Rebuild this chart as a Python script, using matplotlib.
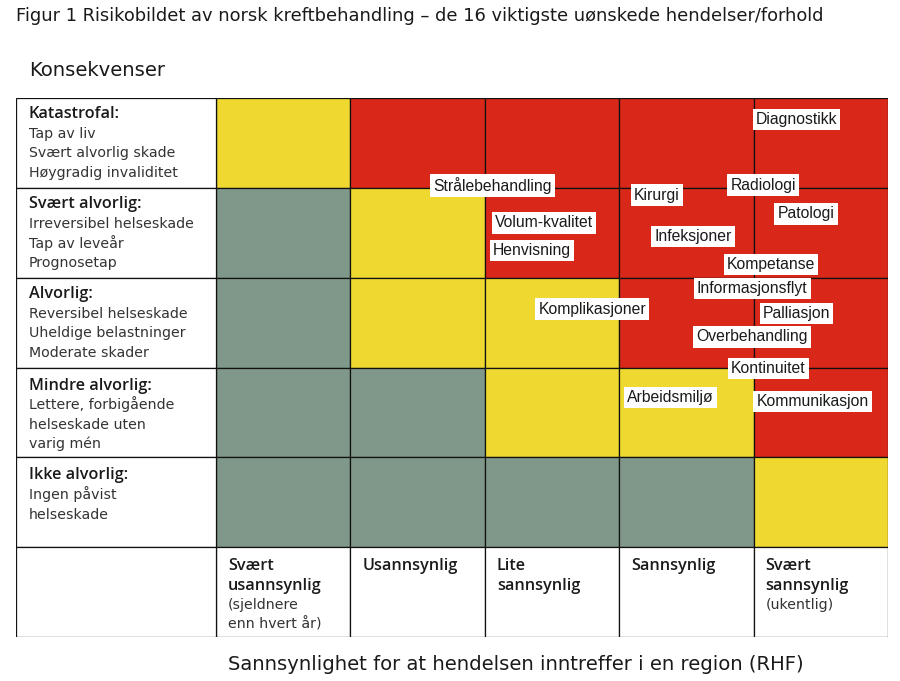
import matplotlib
matplotlib.use("Agg")
import matplotlib.pyplot as plt
from matplotlib.patches import Rectangle
from matplotlib.transforms import offset_copy

# ---------------- data ----------------
title = "Figur 1 Risikobildet av norsk kreftbehandling \u2013 de 16 viktigste u\u00f8nskede hendelser/forhold"
y_title = "Konsekvenser"
x_title = "Sannsynlighet for at hendelsen inntreffer i en region (RHF)"

consequence_heads = ["Katastrofal:", "Sv\u00e6rt alvorlig:", "Alvorlig:", "Mindre alvorlig:", "Ikke alvorlig:"]
consequence_desc = [
    ["Tap av liv", "Sv\u00e6rt alvorlig skade", "H\u00f8ygradig invaliditet"],
    ["Irreversibel helseskade", "Tap av leve\u00e5r", "Prognosetap"],
    ["Reversibel helseskade", "Uheldige belastninger", "Moderate skader"],
    ["Lettere, forbig\u00e5ende", "helseskade uten", "varig m\u00e9n"],
    ["Ingen p\u00e5vist", "helseskade"],
]
likelihood_heads = [["Sv\u00e6rt", "usannsynlig"], ["Usannsynlig"], ["Lite", "sannsynlig"],
                    ["Sannsynlig"], ["Sv\u00e6rt", "sannsynlig"]]
likelihood_desc = [["(sjeldnere", "enn hvert \u00e5r)"], [], [], [], ["(ukentlig)"]]

# risk level per cell: rows from Katastrofal (top) down, columns from Svært usannsynlig
risk = [
    [1, 2, 2, 2, 2],
    [0, 1, 2, 2, 2],
    [0, 1, 1, 2, 2],
    [0, 0, 1, 1, 2],
    [0, 0, 0, 0, 1],
]

events = ["Diagnostikk", "Str\u00e5lebehandling", "Radiologi", "Kirurgi", "Patologi",
          "Volum-kvalitet", "Infeksjoner", "Henvisning", "Kompetanse", "Informasjonsflyt",
          "Komplikasjoner", "Palliasjon", "Overbehandling", "Kontinuitet", "Arbeidsmilj\u00f8",
          "Kommunikasjon"]
# likelihood (0..5, left->right) and consequence (0..5, bottom->top) in matrix units
ev_likelihood = [4.32, 2.06, 4.07, 3.28, 4.39, 2.44, 3.55, 2.35, 4.13, 3.99,
                 2.80, 4.32, 3.99, 4.11, 3.38, 4.44]
ev_consequence = [4.76, 4.03, 4.03, 3.92, 3.71, 3.61, 3.46, 3.30, 3.15, 2.88,
                  2.65, 2.60, 2.34, 1.99, 1.67, 1.62]

# ---------------- style ----------------
risk_colors = {0: "#7F988A", 1: "#EFD930", 2: "#D9271A"}
BASE = ["DejaVu Sans"]
HEAD = ["Open Sans", "DejaVu Sans"]
NARROW = ["Liberation Sans Narrow", "Liberation Sans", "DejaVu Sans"]
W, H = 900, 681
fig = plt.figure(figsize=(W / 100, H / 100), dpi=100)
fig.patch.set_facecolor("white")

left_px, right_px, top_px, bot_px = 16, 888, 98, 637
ncol, nrow = 5, 5
col_w = (right_px - 216) / ncol
label_w = (216 - left_px) / col_w
ax = fig.add_axes([left_px / W, 1 - bot_px / H, (right_px - left_px) / W, (bot_px - top_px) / H])
ax.set_xlim(-label_w, ncol)
ax.set_ylim(-1, nrow)
ax.axis("off")

lw = 0.9
edge = "#111111"
for r in range(nrow):
    for c in range(ncol):
        ax.add_patch(Rectangle((c, nrow - 1 - r), 1, 1, facecolor=risk_colors[risk[r][c]],
                               edgecolor=edge, lw=lw, zorder=1))
for r in range(nrow):
    ax.add_patch(Rectangle((-label_w, nrow - 1 - r), label_w, 1, facecolor="white",
                           edgecolor=edge, lw=lw, zorder=1))
for c in range(ncol):
    ax.add_patch(Rectangle((c, -1), 1, 1, facecolor="white", edgecolor=edge, lw=lw, zorder=1))
ax.add_patch(Rectangle((-label_w, -1), label_w, 1, facecolor="white", edgecolor=edge, lw=lw, zorder=1))

line_h = 19.6  # px between baselines
fs_body = 10.2
fs_head = 11.7
head_col = "#1a1a1a"
body_col = "#333333"

def off(dx, dy):
    return offset_copy(ax.transData, fig=fig, x=dx, y=dy, units="dots")

row_first = [20, 20.5, 20.5, 22, 22]
for r in range(nrow):
    ytop = nrow - r
    b0 = row_first[r]
    ax.text(-label_w, ytop, consequence_heads[r], transform=off(13, -b0), ha="left", va="baseline",
            fontsize=fs_head, family=HEAD, color=head_col, fontweight="semibold")
    for k, line in enumerate(consequence_desc[r]):
        ax.text(-label_w, ytop, line, transform=off(13, -b0 - (k + 1) * line_h), ha="left",
                va="baseline", fontsize=fs_body, family=BASE, color=body_col)

for c in range(ncol):
    b0 = 23
    k = 0
    for line in likelihood_heads[c]:
        ax.text(c, 0, line, transform=off(12, -b0 - k * line_h), ha="left", va="baseline",
                fontsize=fs_head, family=HEAD, color=head_col, fontweight="semibold")
        k += 1
    for line in likelihood_desc[c]:
        ax.text(c, 0, line, transform=off(12, -b0 - k * line_h), ha="left", va="baseline",
                fontsize=fs_body, family=BASE, color=body_col)
        k += 1

for name, x, y in zip(events, ev_likelihood, ev_consequence):
    ax.text(x, y, name, ha="center", va="center", fontsize=11.3, family=NARROW, color="#1a1a1a",
            zorder=5, bbox=dict(boxstyle="square,pad=0.2", facecolor="white", edgecolor="none"))

fig.text(16 / W, 1 - 21 / H, title, ha="left", va="baseline", fontsize=12.85, family=BASE, color="#1a1a1a")
fig.text(29 / W, 1 - 76 / H, y_title, ha="left", va="baseline", fontsize=14.1, family=BASE, color="#1a1a1a")
fig.text(228 / W, 1 - 670 / H, x_title, ha="left", va="baseline", fontsize=14.15, family=BASE, color="#1a1a1a")

fig.savefig("out.png", dpi=100, facecolor="white")
